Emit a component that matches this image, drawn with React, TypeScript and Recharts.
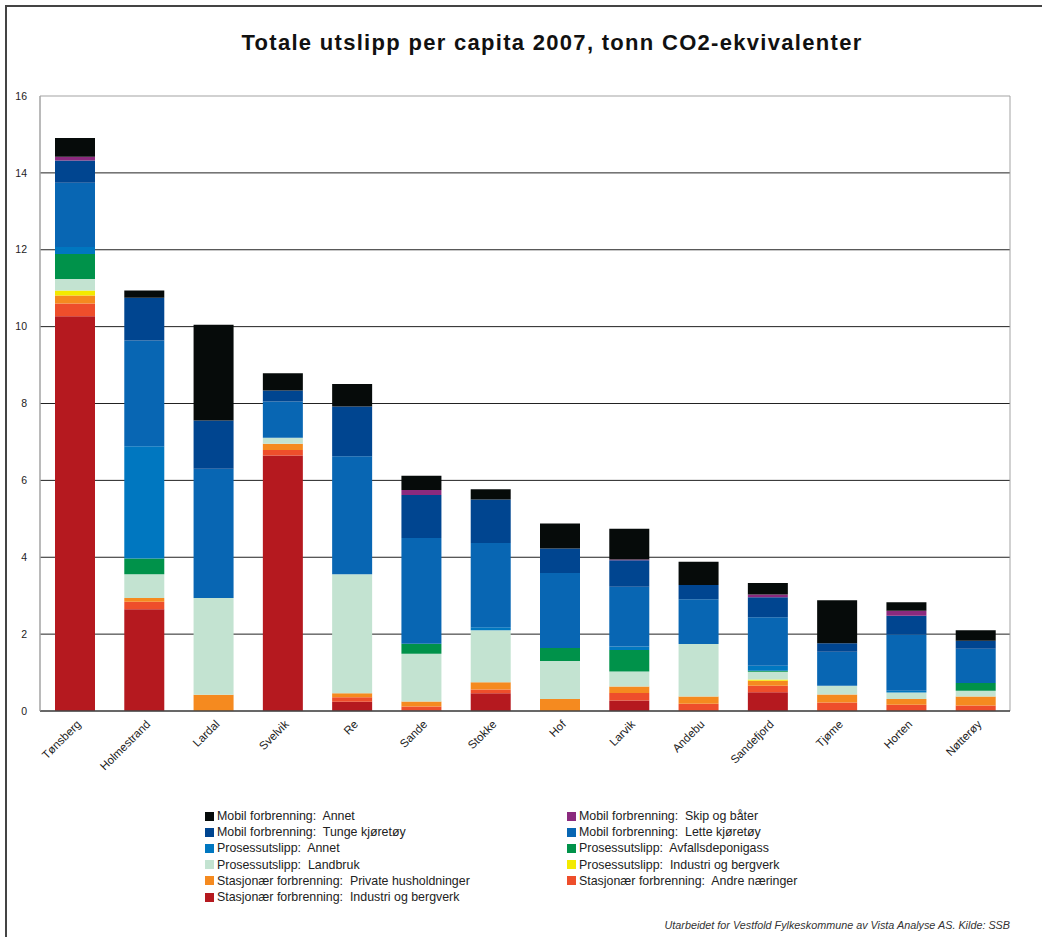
import React from 'react';
import {
  BarChart,
  Bar,
  XAxis,
  YAxis,
  CartesianGrid,
  ReferenceArea
} from 'recharts';

const kommuner = [
  'Tønsberg', 'Holmestrand', 'Lardal', 'Svelvik', 'Re', 'Sande', 'Stokke',
  'Hof', 'Larvik', 'Andebu', 'Sandefjord', 'Tjøme', 'Horten', 'Nøtterøy'
];

// stacked bottom -> top
const stasjonaerIndustri = [10.27, 2.65, 0, 6.65, 0.24, 0.01, 0.46, 0, 0.27, 0, 0.49, 0, 0, 0];
const andreNaeringer = [0.33, 0.19, 0, 0.14, 0.12, 0.11, 0.1, 0, 0.2, 0.19, 0.17, 0.22, 0.16, 0.14];
const privateHush = [0.21, 0.1, 0.42, 0.16, 0.1, 0.13, 0.19, 0.31, 0.17, 0.19, 0.13, 0.21, 0.15, 0.24];
const prosessIndustri = [0.13, 0, 0, 0, 0, 0, 0, 0, 0, 0, 0.03, 0, 0, 0];
const landbruk = [0.3, 0.62, 2.52, 0.16, 3.1, 1.24, 1.35, 0.99, 0.39, 1.36, 0.2, 0.23, 0.17, 0.15];
const avfall = [0.65, 0.41, 0, 0, 0, 0.26, 0, 0.34, 0.56, 0, 0.03, 0, 0, 0.2];
const prosessAnnet = [0.18, 2.92, 0, 0, 0, 0, 0.08, 0, 0.09, 0, 0.13, 0, 0.05, 0];
const lette = [1.67, 2.75, 3.36, 0.94, 3.07, 2.75, 2.19, 1.95, 1.55, 1.17, 1.26, 0.88, 1.46, 0.89];
const tunge = [0.58, 1.11, 1.26, 0.29, 1.29, 1.12, 1.13, 0.64, 0.69, 0.37, 0.52, 0.22, 0.49, 0.21];
const skip = [0.1, 0, 0, 0, 0, 0.13, 0, 0, 0.02, 0, 0.07, 0, 0.13, 0];
const mobilAnnet = [0.49, 0.19, 2.49, 0.45, 0.59, 0.37, 0.27, 0.65, 0.8, 0.6, 0.3, 1.12, 0.22, 0.27];

const yTicks = [0, 2, 4, 6, 8, 10, 12, 14, 16];

const series = [
  { key: 'stasjonaerIndustri', name: 'Stasjonær forbrenning:  Industri og bergverk', color: '#b5191f', values: stasjonaerIndustri },
  { key: 'andreNaeringer', name: 'Stasjonær forbrenning:  Andre næringer', color: '#ee4e2b', values: andreNaeringer },
  { key: 'privateHush', name: 'Stasjonær forbrenning:  Private husholdninger', color: '#f58a1f', values: privateHush },
  { key: 'prosessIndustri', name: 'Prosessutslipp:  Industri og bergverk', color: '#f3ea00', values: prosessIndustri },
  { key: 'landbruk', name: 'Prosessutslipp:  Landbruk', color: '#c3e3d1', values: landbruk },
  { key: 'avfall', name: 'Prosessutslipp:  Avfallsdeponigass', color: '#00924a', values: avfall },
  { key: 'prosessAnnet', name: 'Prosessutslipp:  Annet', color: '#0077c0', values: prosessAnnet },
  { key: 'lette', name: 'Mobil forbrenning:  Lette kjøretøy', color: '#0866b3', values: lette },
  { key: 'tunge', name: 'Mobil forbrenning:  Tunge kjøretøy', color: '#004590', values: tunge },
  { key: 'skip', name: 'Mobil forbrenning:  Skip og båter', color: '#8b2a7e', values: skip },
  { key: 'mobilAnnet', name: 'Mobil forbrenning:  Annet', color: '#060b0a', values: mobilAnnet }
];

// legend reading order (two columns)
const legendOrder = [
  'mobilAnnet', 'skip', 'tunge', 'lette', 'prosessAnnet', 'avfall',
  'landbruk', 'prosessIndustri', 'privateHush', 'andreNaeringer', 'stasjonaerIndustri'
];

const data = kommuner.map((name, i) => {
  const row: Record<string, string | number> = { name };
  series.forEach(s => { row[s.key] = s.values[i]; });
  return row;
});

const FONT = '"Liberation Sans", Arial, sans-serif';

const XTick = ({ x, y, payload }: any) => (
  <g transform={`translate(${x + 7},${y + 12})`}>
    <text textAnchor="end" transform="rotate(-45)" fontSize={11.5} fill="#222" fontFamily={FONT}>
      {payload.value}
    </text>
  </g>
);

const App: React.FC = () => (
  <div style={{ position: 'absolute', left: 0, top: 0, width: 1042, height: 937, background: '#fff', fontFamily: FONT }}>
    <div style={{ position: 'absolute', left: 5, top: 5, width: 1037, height: 932, borderLeft: '2px solid #444', borderTop: '2px solid #444' }} />
    <div style={{ position: 'absolute', left: 0, top: 30, width: 1104, textAlign: 'center', fontSize: 22, letterSpacing: 1.3, fontWeight: 'bold', color: '#111' }}>
      Totale utslipp per capita 2007, tonn CO2-ekvivalenter
    </div>
    <div style={{ position: 'absolute', left: 0, top: 0 }}>
      <BarChart width={1042} height={937} data={data} margin={{ top: 96, right: 32, bottom: 196, left: 10 }}>
        <CartesianGrid horizontal vertical={false} horizontalValues={[2, 4, 6, 8, 10, 12, 14]} stroke="#222" />
        <ReferenceArea y1={0} y2={16} fill="none" stroke="#a3a3a3" ifOverflow="visible" />
        {series.map(s => (
          <Bar
            key={s.key}
            dataKey={s.key}
            name={s.name}
            stackId="a"
            fill={s.color}
            barSize={40}
            isAnimationActive={false}
          />
        ))}
        <XAxis dataKey="name" height={30} tickLine={false} tickSize={0} interval={0} tick={<XTick />} axisLine={{ stroke: '#444', strokeWidth: 1.5 }} />
        <YAxis
          width={30}
          domain={[0, 16]}
          ticks={yTicks}
          tickLine={false}
          tickSize={0}
          tickMargin={13}
          axisLine={{ stroke: '#a3a3a3' }}
          tick={{ fontSize: 10.5, fill: '#222', fontFamily: FONT }}
        />
      </BarChart>
    </div>
    {legendOrder.map((k, i) => {
      const s = series.find(x => x.key === k)!;
      const col = i % 2;
      const row = Math.floor(i / 2);
      return (
        <div
          key={k}
          style={{ position: 'absolute', left: col === 0 ? 205 : 567, top: 809 + row * 16.2, display: 'flex', alignItems: 'center', fontSize: 12.4, color: '#222', whiteSpace: 'pre' }}
        >
          <span style={{ display: 'inline-block', width: 9, height: 9, background: s.color, marginRight: 3 }} />
          {s.name}
        </div>
      );
    })}
    <div style={{ position: 'absolute', right: 32, top: 919, fontSize: 10.8, fontStyle: 'italic', color: '#333' }}>
      Utarbeidet for Vestfold Fylkeskommune av Vista Analyse AS. Kilde: SSB
    </div>
  </div>
);

export default App;
